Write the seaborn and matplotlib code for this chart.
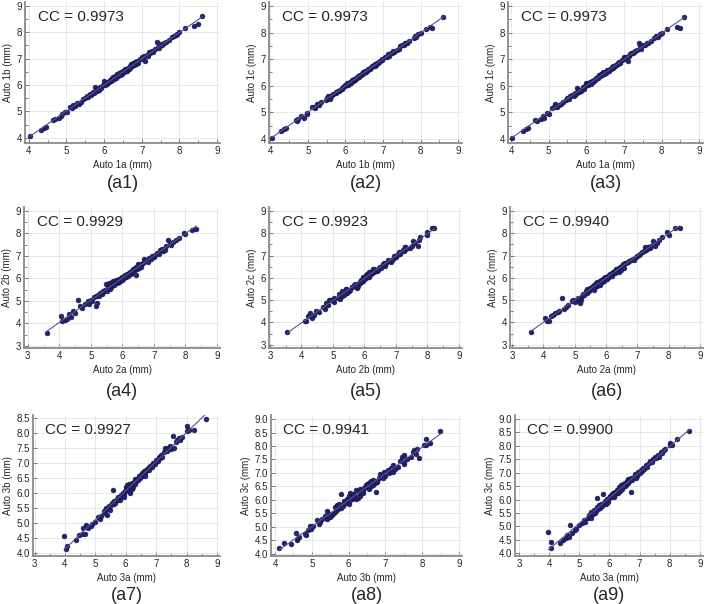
import numpy as np
import seaborn as sns
import matplotlib.pyplot as plt
from matplotlib.ticker import MultipleLocator, FormatStrFormatter

auto1a = [4.03, 4.32, 4.40, 4.45, 4.65, 4.70, 4.80, 4.85, 4.88, 4.95,
          5.02, 5.10, 5.15, 5.18, 5.22, 5.28, 5.33, 5.38, 5.45, 5.50,
          5.55, 5.58, 5.62, 5.66, 5.70, 5.72, 5.75, 5.78, 5.80, 5.83,
          5.86, 5.90, 5.93, 5.96, 6.00, 6.02, 6.05, 6.08, 6.10, 6.12,
          6.15, 6.18, 6.20, 6.22, 6.25, 6.27, 6.30, 6.32, 6.35, 6.37,
          6.40, 6.42, 6.45, 6.47, 6.50, 6.53, 6.55, 6.58, 6.60, 6.63,
          6.65, 6.68, 6.70, 6.72, 6.75, 6.78, 6.80, 6.83, 6.85, 6.88,
          6.90, 6.95, 7.00, 7.03, 7.06, 7.10, 7.13, 7.16, 7.20, 7.23,
          7.27, 7.30, 7.35, 7.40, 7.42, 7.45, 7.50, 7.55, 7.60, 7.65,
          7.72, 7.80, 7.85, 7.90, 7.95, 8.00, 8.15, 8.40, 8.50, 8.60]
auto1b = [4.05, 4.30, 4.37, 4.42, 4.68, 4.72, 4.75, 4.83, 4.90, 4.98,
          4.97, 5.18, 5.12, 5.25, 5.20, 5.30, 5.28, 5.35, 5.48, 5.52,
          5.58, 5.55, 5.65, 5.62, 5.75, 5.68, 5.92, 5.80, 5.76, 5.86,
          5.82, 5.93, 5.90, 6.00, 6.15, 6.00, 6.08, 6.05, 6.13, 6.10,
          6.20, 6.15, 6.25, 6.18, 6.30, 6.22, 6.35, 6.28, 6.42, 6.33,
          6.45, 6.38, 6.48, 6.43, 6.55, 6.50, 6.60, 6.55, 6.52, 6.65,
          6.60, 6.72, 6.66, 6.78, 6.72, 6.82, 6.76, 6.86, 6.80, 6.90,
          6.85, 6.98, 7.05, 6.98, 7.10, 6.92, 7.15, 7.12, 7.25, 7.20,
          7.30, 7.26, 7.38, 7.65, 7.45, 7.42, 7.55, 7.50, 7.58, 7.62,
          7.70, 7.82, 7.85, 7.88, 7.92, 8.02, 8.15, 8.25, 8.30, 8.60]
auto1c = [4.04, 4.31, 4.36, 4.40, 4.70, 4.69, 4.76, 4.86, 4.80, 4.97,
          4.95, 5.15, 5.20, 5.30, 5.22, 5.26, 5.30, 5.40, 5.45, 5.55,
          5.52, 5.60, 5.66, 5.63, 5.72, 5.70, 5.90, 5.82, 5.78, 5.84,
          5.80, 5.95, 5.88, 5.98, 6.12, 6.04, 6.03, 6.10, 6.15, 6.08,
          6.18, 6.16, 6.22, 6.20, 6.28, 6.25, 6.33, 6.30, 6.40, 6.35,
          6.44, 6.40, 6.50, 6.45, 6.52, 6.48, 6.58, 6.57, 6.55, 6.62,
          6.63, 6.70, 6.68, 6.76, 6.74, 6.80, 6.78, 6.85, 6.82, 6.88,
          6.87, 6.96, 7.08, 7.00, 7.08, 6.95, 7.12, 7.18, 7.22, 7.25,
          7.28, 7.32, 7.36, 7.62, 7.48, 7.40, 7.52, 7.53, 7.62, 7.60,
          7.68, 7.78, 7.88, 7.85, 7.95, 7.98, 8.14, 8.22, 8.18, 8.58]

auto2a = [3.60, 4.05, 4.10, 4.18, 4.25, 4.30, 4.38, 4.45, 4.50, 4.60,
          4.65, 4.72, 4.80, 4.90, 4.95, 5.00, 5.05, 5.10, 5.15, 5.18,
          5.20, 5.22, 5.25, 5.30, 5.35, 5.38, 5.40, 5.45, 5.48, 5.50,
          5.55, 5.58, 5.60, 5.63, 5.65, 5.68, 5.70, 5.72, 5.75, 5.78,
          5.80, 5.82, 5.85, 5.88, 5.90, 5.92, 5.95, 5.98, 6.00, 6.02,
          6.05, 6.08, 6.10, 6.12, 6.15, 6.18, 6.20, 6.22, 6.25, 6.28,
          6.30, 6.32, 6.35, 6.38, 6.40, 6.42, 6.45, 6.48, 6.50, 6.52,
          6.55, 6.58, 6.60, 6.65, 6.70, 6.75, 6.80, 6.85, 6.90, 6.95,
          7.00, 7.05, 7.10, 7.15, 7.20, 7.25, 7.28, 7.30, 7.35, 7.40,
          7.45, 7.50, 7.55, 7.62, 7.70, 7.80, 7.95, 8.00, 8.20, 8.35]
auto2b = [3.55, 4.32, 4.10, 4.15, 4.20, 4.40, 4.28, 4.55, 4.45, 5.02,
          4.75, 4.70, 4.85, 5.00, 4.88, 5.05, 4.98, 5.15, 5.22, 4.78,
          4.92, 5.28, 5.20, 5.35, 5.30, 5.45, 5.40, 5.50, 5.75, 5.42,
          5.60, 5.80, 5.55, 5.68, 5.62, 5.85, 5.72, 5.90, 5.70, 5.82,
          5.95, 5.78, 5.88, 5.85, 5.98, 5.90, 6.02, 5.95, 6.05, 5.98,
          6.10, 6.05, 6.15, 6.08, 6.20, 6.12, 6.25, 6.18, 6.30, 6.20,
          6.35, 6.28, 6.40, 6.32, 6.45, 6.15, 6.50, 6.42, 6.65, 6.48,
          6.58, 6.52, 6.62, 6.70, 6.85, 6.80, 6.75, 6.90, 6.88, 7.00,
          6.95, 7.05, 7.12, 7.10, 7.25, 7.30, 7.22, 7.32, 7.28, 7.45,
          7.70, 7.55, 7.50, 7.60, 7.72, 7.78, 8.00, 7.98, 8.15, 8.22]
auto2c = [3.57, 4.20, 4.08, 4.05, 4.30, 4.35, 4.40, 4.45, 4.52, 5.10,
          4.60, 4.68, 4.78, 4.95, 5.02, 4.90, 5.00, 5.10, 5.05, 4.85,
          5.00, 5.20, 5.28, 5.25, 5.40, 5.32, 5.48, 5.42, 5.55, 5.50,
          5.58, 5.62, 5.45, 5.70, 5.58, 5.75, 5.65, 5.80, 5.72, 5.78,
          5.85, 5.70, 5.90, 5.82, 5.95, 5.88, 5.98, 6.02, 6.00, 5.95,
          6.08, 6.12, 6.05, 6.15, 6.18, 6.10, 6.22, 6.28, 6.25, 6.20,
          6.32, 6.38, 6.30, 6.40, 6.42, 6.25, 6.48, 6.35, 6.55, 6.50,
          6.60, 6.45, 6.65, 6.68, 6.72, 6.75, 6.82, 6.85, 6.80, 6.92,
          7.00, 7.02, 7.08, 7.15, 7.20, 7.38, 7.25, 7.30, 7.40, 7.35,
          7.42, 7.65, 7.45, 7.58, 7.70, 7.82, 8.05, 7.92, 8.22, 8.25]

auto3a = [3.98, 4.05, 4.06, 4.35, 4.45, 4.55, 4.60, 4.65, 4.70, 4.75,
          4.85, 4.90, 5.00, 5.10, 5.15, 5.20, 5.28, 5.32, 5.35, 5.38,
          5.40, 5.45, 5.48, 5.52, 5.55, 5.58, 5.60, 5.63, 5.66, 5.70,
          5.73, 5.76, 5.80, 5.83, 5.86, 5.90, 5.93, 5.96, 6.00, 6.02,
          6.05, 6.08, 6.10, 6.12, 6.15, 6.18, 6.20, 6.22, 6.25, 6.28,
          6.30, 6.32, 6.35, 6.38, 6.40, 6.43, 6.46, 6.50, 6.52, 6.55,
          6.58, 6.60, 6.63, 6.66, 6.70, 6.73, 6.76, 6.80, 6.85, 6.90,
          6.95, 7.00, 7.05, 7.08, 7.12, 7.15, 7.20, 7.25, 7.30, 7.35,
          7.40, 7.45, 7.50, 7.55, 7.60, 7.65, 7.70, 7.75, 7.80, 7.85,
          8.00, 8.02, 8.08, 8.25, 8.65, 6.48, 6.15, 5.95, 6.62, 6.88]
auto3b = [4.57, 4.12, 4.25, 4.42, 4.60, 4.62, 4.85, 4.65, 4.95, 4.82,
          4.90, 4.98, 5.02, 5.20, 5.15, 5.22, 5.40, 5.35, 5.50, 5.28,
          5.45, 5.55, 5.42, 5.60, 5.65, 6.10, 5.62, 5.72, 5.68, 5.80,
          5.75, 5.85, 5.78, 5.92, 5.88, 6.00, 5.95, 6.05, 6.20, 6.10,
          6.25, 6.15, 6.30, 6.05, 6.22, 6.28, 6.12, 6.32, 6.20, 6.38,
          6.30, 6.45, 6.40, 6.48, 6.42, 6.55, 6.50, 6.60, 6.55, 6.65,
          6.62, 6.72, 6.65, 6.78, 6.75, 6.82, 6.78, 6.90, 6.85, 7.00,
          6.95, 7.10, 7.08, 7.20, 7.15, 7.25, 7.20, 7.35, 7.50, 7.40,
          7.50, 7.58, 7.45, 7.90, 7.50, 7.70, 7.75, 7.82, 7.78, 7.85,
          8.05, 8.22, 8.10, 8.10, 8.48, 6.52, 6.00, 5.88, 6.58, 6.92]
auto3c = [4.78, 4.20, 4.42, 4.38, 4.50, 4.58, 4.70, 4.62, 5.05, 4.75,
          4.88, 4.92, 5.05, 5.12, 5.25, 5.18, 5.30, 5.42, 5.35, 5.30,
          5.52, 5.45, 5.60, 5.50, 5.58, 6.05, 5.72, 5.65, 5.80, 5.70,
          5.85, 5.78, 6.22, 5.88, 5.95, 5.85, 6.02, 5.98, 6.05, 6.12,
          6.08, 6.20, 6.15, 6.25, 6.10, 6.30, 6.22, 6.28, 6.35, 6.25,
          6.40, 6.48, 6.32, 6.55, 6.45, 6.40, 6.58, 6.52, 6.62, 6.55,
          6.70, 6.62, 6.75, 6.68, 6.30, 6.80, 6.72, 6.85, 6.95, 6.88,
          7.02, 7.00, 7.12, 7.05, 7.18, 7.15, 7.28, 7.22, 7.35, 7.45,
          7.40, 7.52, 7.60, 7.55, 7.65, 7.60, 7.78, 7.72, 7.85, 7.90,
          8.05, 8.10, 8.02, 8.25, 8.55, 6.50, 6.15, 5.90, 6.65, 6.82]

data = {"Auto 1a": auto1a, "Auto 1b": auto1b, "Auto 1c": auto1c,
        "Auto 2a": auto2a, "Auto 2b": auto2b, "Auto 2c": auto2c,
        "Auto 3a": auto3a, "Auto 3b": auto3b, "Auto 3c": auto3c}

# (x, y, CC, étiquette)
panels = [("Auto 1a", "Auto 1b", "0.9973", "(a1)"),
          ("Auto 1b", "Auto 1c", "0.9973", "(a2)"),
          ("Auto 1a", "Auto 1c", "0.9973", "(a3)"),
          ("Auto 2a", "Auto 2b", "0.9929", "(a4)"),
          ("Auto 2b", "Auto 2c", "0.9923", "(a5)"),
          ("Auto 2a", "Auto 2c", "0.9940", "(a6)"),
          ("Auto 3a", "Auto 3b", "0.9927", "(a7)"),
          ("Auto 3b", "Auto 3c", "0.9941", "(a8)"),
          ("Auto 3a", "Auto 3c", "0.9900", "(a9)")]

sns.set_theme(style="whitegrid")
plt.rcParams['font.family'] = ['Liberation Sans', 'DejaVu Sans']

W, H = 708, 604
fig = plt.figure(figsize=(W / 100, H / 100), dpi=100)

# cadres en pixels : gauche, droite, haut, bas
boxes = [(25, 220, 2, 143), (269, 462, 2, 143), (508, 703, 2, 143),
         (24, 220, 207, 348), (269, 462, 207, 348), (510, 703, 207, 348),
         (33, 220, 415, 556), (271, 462, 415, 556), (515, 703, 415, 556)]
xlims = [(3.9, 9.08), (3.97, 9.1), (3.92, 9.1),
         (2.88, 9.1), (2.97, 9.1), (2.93, 9.1),
         (2.95, 9.1), (3.89, 9.08), (2.87, 9.1)]
ylims = [(3.8, 9.15), (3.85, 9.15), (3.85, 9.15),
         (2.9, 9.18), (2.85, 9.18), (2.85, 9.18),
         (3.9, 8.6), (3.92, 9.15), (3.9, 9.15)]
label_y = [184, 184, 184, 392, 392, 392, 595, 595, 595]

for i, (xn, yn, cc, tag) in enumerate(panels):
    l, r, t, b = boxes[i]
    ax = fig.add_axes([l / W, 1 - b / H, (r - l) / W, (b - t) / H])
    sns.regplot(x=np.array(data[xn]), y=np.array(data[yn]), ax=ax, ci=None,
                scatter_kws={'s': 12, 'color': '#23236e', 'edgecolor': '#14144a',
                             'linewidths': 0.4, 'alpha': 1},
                line_kws={'color': '#55558f', 'lw': 0.8})
    ax.set_xlim(*xlims[i])
    ax.set_ylim(*ylims[i])
    ax.xaxis.set_major_locator(MultipleLocator(1))
    ax.xaxis.set_minor_locator(MultipleLocator(0.5))
    if i >= 6:
        ax.yaxis.set_major_locator(MultipleLocator(0.5))
        ax.yaxis.set_major_formatter(FormatStrFormatter('%.1f'))
    else:
        ax.yaxis.set_major_locator(MultipleLocator(1))
        ax.yaxis.set_minor_locator(MultipleLocator(0.5))
    ax.grid(True, which='major', color='#e4e4e4', lw=0.6)
    ax.set_facecolor('white')
    for s in ['top', 'right']:
        ax.spines[s].set_visible(False)
    for s in ['left', 'bottom']:
        ax.spines[s].set_color('#8a8a8a')
        ax.spines[s].set_linewidth(1.3)
    ax.tick_params(which='both', direction='in', color='#666666', width=0.6,
                   labelsize=7, pad=2, left=True, bottom=True)
    ax.tick_params(which='major', length=3)
    ax.tick_params(which='minor', length=2)
    ax.set_xlabel(xn + " (mm)", fontsize=7, labelpad=3)
    ax.set_ylabel(yn + " (mm)", fontsize=7, labelpad=3)
    ax.text(0.065, 0.895, "CC = " + cc, transform=ax.transAxes,
            ha='left', va='center', fontsize=11)
    fig.text((l + r) / 2 / W, 1 - label_y[i] / H, tag,
             ha='center', va='center', fontsize=13)

fig.savefig("out.png", dpi=100)
